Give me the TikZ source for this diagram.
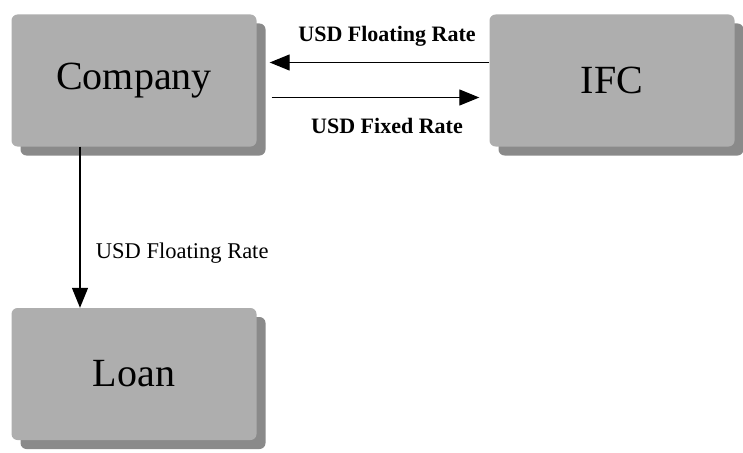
\documentclass[tikz,border=0pt]{standalone}
\usepackage{fontspec}
\setmainfont{Liberation Serif}
\usetikzlibrary{arrows.meta,positioning,shadows}
\definecolor{boxgray}{RGB}{174,174,174}
\definecolor{shadegray}{RGB}{138,138,138}

\begin{document}
\begin{tikzpicture}[x=1pt,y=-1pt,
  party/.style={fill=boxgray,rounded corners=6pt,minimum width=245pt,
    minimum height=132pt,inner sep=0pt,font=\fontsize{40}{44}\selectfont,
    drop shadow={shadow xshift=9pt,shadow yshift=-9pt,fill=shadegray,opacity=1}},
  flow/.style={-{Triangle[length=20pt,width=16pt]},line width=1.3pt},
  rate/.style={font=\fontsize{22}{26}\selectfont\bfseries},
  ratelight/.style={font=\fontsize{22.5}{26}\selectfont}]
  \useasboundingbox (0,0) rectangle (743,452);
  % Parties
  \node[party] (company) at (134,80.5) {Company};
  \node[party] (ifc) at (612,80.5) {IFC};
  \node[party] (loan) at (134,374) {Loan};
  % Swap legs
  \draw[flow,shorten >=13pt] ([yshift=18pt]ifc.west) -- ([yshift=18pt]company.east)
    node[rate,midway,above=12pt,xshift=14pt]{USD Floating Rate};
  \draw[flow,shorten <=15pt,shorten >=10pt] ([yshift=-17pt]company.east) -- ([yshift=-17pt]ifc.west)
    node[rate,midway,below=17pt,xshift=14pt]{USD Fixed Rate};
  % Loan payment
  \draw[flow] ([xshift=-54pt]company.south) -- ([xshift=-54pt]loan.north)
    node[ratelight,pos=0.66,right=12pt]{USD Floating Rate};
\end{tikzpicture}
\end{document}
